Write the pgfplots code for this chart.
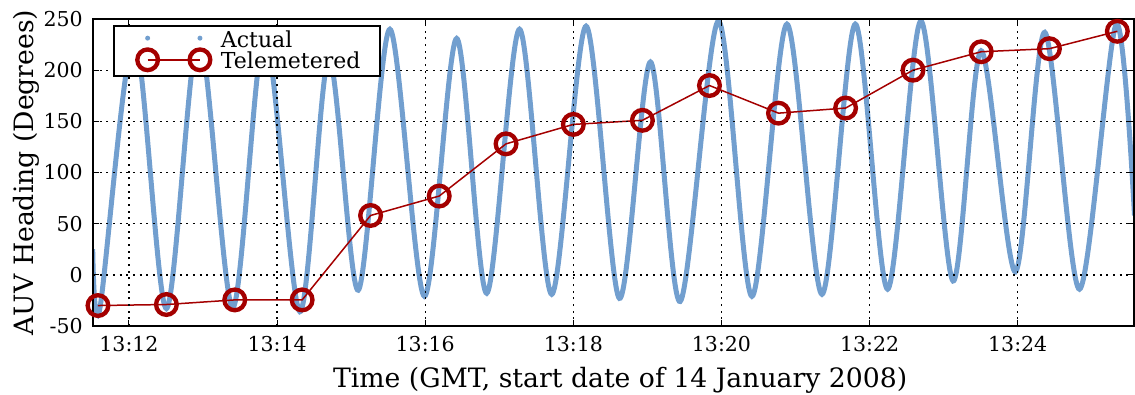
\documentclass[border=0pt]{standalone}
\usepackage{fontspec}
\setmainfont{DejaVu Serif}
\usepackage{pgfplots}
\pgfplotsset{compat=1.18}
\definecolor{skyblue}{HTML}{729FCF}
\definecolor{scarlet}{HTML}{A40000}
\begin{document}
\begin{tikzpicture}
\begin{axis}[
  at={(0pt,0pt)}, anchor=south west,
  scale only axis, width=624.6pt, height=184.2pt,
  xmin=11.514, xmax=25.57, ymin=-50, ymax=250,
  xtick={12,14,16,18,20,22,24},
  xticklabels={13:12,13:14,13:16,13:18,13:20,13:22,13:24},
  ytick={-50,0,50,100,150,200,250},
  /pgf/number format/assume math mode=true,
  tick label style={font=\fontsize{12.3}{14}\selectfont},
  yticklabel style={inner xsep=6pt},
  xticklabel style={inner ysep=6pt},
  label style={font=\fontsize{16}{19}\selectfont},
  xlabel={Time (GMT, start date of 14 January 2008)},
  ylabel={AUV Heading (Degrees)},
  ylabel shift=-7pt,
  xlabel style={xshift=4pt},
  tick align=inside,
  major tick length=3.4pt,
  every tick/.style={black, line width=0.6pt},
  axis line style={line width=1.5pt},
  grid=major,
  major grid style={black, line width=0.8pt, dash pattern=on 1.2pt off 2.8pt},
  axis on top,
  legend columns=1,
  legend cell align=left,
  legend style={at={(0.0195,0.98)}, anchor=north west, draw=black, line width=1.2pt,
    fill=white, inner xsep=12pt, inner ysep=2.5pt, column sep=5pt, row sep=0.9pt,
    font=\fontsize{13.2}{15}\selectfont,
    nodes={inner xsep=0pt, inner ysep=0.5pt, text height=9.6pt, text depth=1.5pt}},
]
\addplot[smooth, color=skyblue, line width=3pt,
  legend image code/.code={
    \path[draw=none, fill=none] (-8pt,-2pt) rectangle (39pt,2pt);
    \fill[skyblue, draw=none, overlay] (0pt,1.35pt) circle (1.5pt);
    \fill[skyblue, draw=none, overlay] (31.4pt,1.35pt) circle (1.5pt);
  }] coordinates {
(11.510,25) (11.604,-34) (12.070,232) (12.505,-33) (12.942,235) (13.401,-32)
(13.834,235) (14.307,-36) (14.699,212) (15.095,-15) (15.523,240) (15.989,-21)
(16.424,231) (16.830,-18) (17.273,240) (17.708,-19) (18.172,243) (18.622,-23)
(19.041,208) (19.442,-26) (19.959,248) (20.411,-21) (20.884,245) (21.357,-19)
(21.807,245) (22.243,-14) (22.692,248) (23.127,-6) (23.505,219) (23.969,3)
(24.365,237) (24.834,-14) (25.330,245) (25.577,58)
};
\addlegendentry{Actual}
\addplot[color=scarlet, line width=0.9pt, mark=o, mark size=6.2pt,
  mark options={line width=2.6pt, draw=scarlet, fill=none},
  legend image code/.code={
    \path[draw=none, fill=none] (-8pt,-2pt) rectangle (39pt,2pt);
    \draw[scarlet, line width=0.9pt, fill=none, overlay] (0pt,1.35pt) -- (31.4pt,1.35pt);
    \draw[scarlet, line width=2.6pt, fill=none, overlay] (0pt,1.35pt) circle (6.2pt);
    \draw[scarlet, line width=2.6pt, fill=none, overlay] (31.4pt,1.35pt) circle (6.2pt);
  }] coordinates {
(11.581,-30) (12.505,-29) (13.428,-24.5) (14.338,-24.5) (15.262,58) (16.189,77)
(17.091,128) (18.000,147) (18.932,151) (19.838,185) (20.770,158) (21.676,163)
(22.586,200) (23.507,218) (24.428,221) (25.345,238)
};
\addlegendentry{Telemetered}
\end{axis}
\pgfresetboundingbox
\path[use as bounding box] (-55.8pt,-40.8pt) rectangle (625.2pt,195.6pt);
\end{tikzpicture}
\end{document}
